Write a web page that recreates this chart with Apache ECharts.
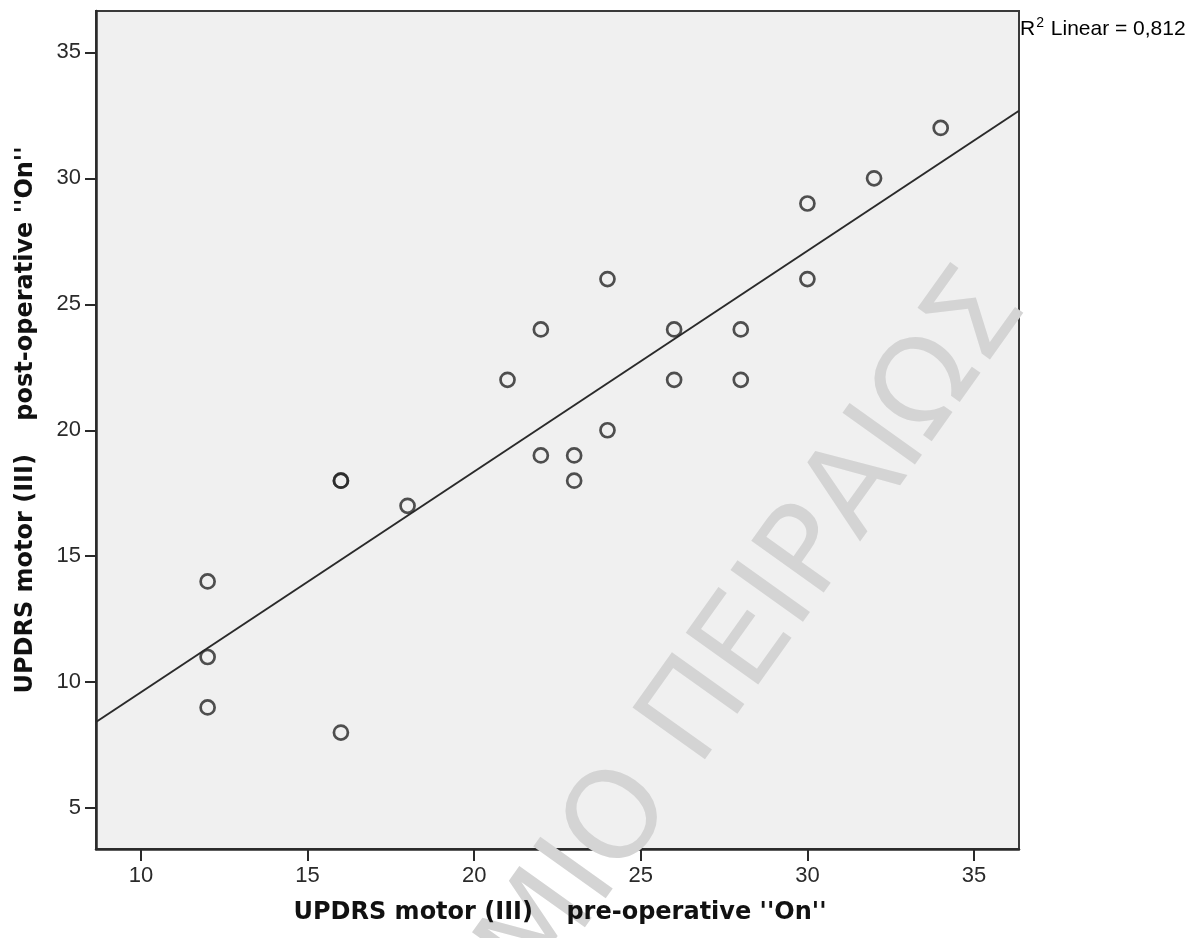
<!DOCTYPE html>
<html>
<head>
<meta charset="utf-8">
<script src="https://cdn.jsdelivr.net/npm/echarts@6/dist/echarts.min.js"></script>
<style>
html,body{margin:0;padding:0;background:#fff;}
#chart{width:1199px;height:938px;}
</style>
</head>
<body>
<div id="chart"></div>
<script>
// Data
const preOp  = [12, 12, 12, 16, 16, 16, 18, 21, 22, 22, 23, 23, 24, 24, 26, 26, 28, 28, 30, 30, 32, 34];
const postOp = [14, 11,  9, 18, 18,  8, 17, 22, 24, 19, 19, 18, 26, 20, 24, 22, 24, 22, 29, 26, 30, 32];
const fitLineX = [8.65, 36.35];
const fitLineY = [8.42, 32.68];
const xTicks = [10, 15, 20, 25, 30, 35];
const yTicks = [5, 10, 15, 20, 25, 30, 35];
const xTitle = "UPDRS motor (III)    pre-operative ''On''";
const yTitle = "UPDRS motor (III)    post-operative ''On''";
const r2Text = "0,812";
const watermark = "ΠΑΝΕΠΙΣΤΗΜΙΟ ΠΕΙΡΑΙΩΣ";

const points = preOp.map((x, i) => [x, postOp[i]]);
const fitLine = fitLineX.map((x, i) => [x, fitLineY[i]]);

const chart = echarts.init(document.getElementById('chart'), null, {renderer: 'canvas'});
const dark = '#2a2a2a';
const tickFont = {fontFamily: '"Liberation Sans", Arial, sans-serif', fontSize: 22, color: '#2a2a2a'};

chart.setOption({
  animation: false,
  backgroundColor: '#ffffff',
  grid: {
    left: 96, top: 11, right: 180, bottom: 89,
    show: true, backgroundColor: '#f0f0f0',
    borderColor: '#3a3a3a', borderWidth: 2
  },
  xAxis: {
    type: 'value', min: 8.65, max: 36.35,
    splitLine: {show: false},
    axisLine: {show: true, onZero: false, lineStyle: {color: dark, width: 2.5}},
    axisTick: {show: true, length: 12, customValues: xTicks, lineStyle: {color: dark, width: 2}},
    axisLabel: Object.assign({customValues: xTicks, margin: 16}, tickFont)
  },
  yAxis: {
    type: 'value', min: 3.38, max: 36.64,
    splitLine: {show: false},
    axisLine: {show: true, onZero: false, lineStyle: {color: dark, width: 2.5}},
    axisTick: {show: true, length: 11, customValues: yTicks, lineStyle: {color: dark, width: 2}},
    axisLabel: Object.assign({customValues: yTicks, margin: 15}, tickFont)
  },
  graphic: [
    {
      type: 'text', x: 1002, y: 288, rotation: 54.5 * Math.PI / 180, z: 1, zlevel: 0,
      silent: true,
      style: {
        text: watermark, fill: '#d4d4d4',
        font: 'normal 122px "DejaVu Sans", sans-serif',
        align: 'right', verticalAlign: 'middle',
        textAlign: 'right', textVerticalAlign: 'middle'
      }
    },
    {
      type: 'text', x: 560, y: 913, z: 10,
      style: {
        text: xTitle, fill: '#111',
        font: 'bold 24px "DejaVu Sans", sans-serif',
        align: 'center', verticalAlign: 'middle',
        textAlign: 'center', textVerticalAlign: 'middle'
      }
    },
    {
      type: 'text', x: 26, y: 420, rotation: Math.PI / 2, z: 10,
      style: {
        text: yTitle, fill: '#111',
        font: 'bold 24px "DejaVu Sans", sans-serif',
        align: 'center', verticalAlign: 'middle',
        textAlign: 'center', textVerticalAlign: 'middle'
      }
    },
    {
      type: 'text', x: 1020, y: 29, z: 10,
      style: {
        text: '{r|R}{s|2}{r| Linear = ' + r2Text + '}',
        align: 'left', verticalAlign: 'middle',
        textAlign: 'left', textVerticalAlign: 'middle',
        rich: {
          r: {fontFamily: '"Liberation Sans", Arial, sans-serif', fontSize: 21, color: '#222'},
          s: {fontFamily: '"Liberation Sans", Arial, sans-serif', fontSize: 14, color: '#222', verticalAlign: 'top', padding: [0, 1, 12, 1]}
        }
      }
    }
  ],
  series: [
    {
      type: 'line', data: fitLine, symbol: 'none', z: 3,
      lineStyle: {color: dark, width: 2},
      silent: true
    },
    {
      type: 'scatter', data: points, symbol: 'circle', symbolSize: 14, z: 4,
      itemStyle: {color: 'rgba(0,0,0,0)', borderColor: '#262626', borderWidth: 2.7},
      emphasis: {disabled: true},
      silent: true
    }
  ]
});
</script>
</body>
</html>
